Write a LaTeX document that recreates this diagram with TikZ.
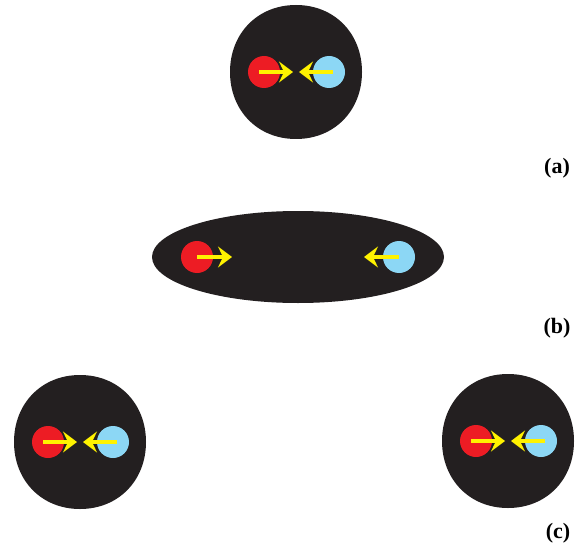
\documentclass[tikz,border=0pt]{standalone}
\usepackage{fontspec}
\setmainfont{Liberation Serif}
\usetikzlibrary{arrows.meta,positioning}
\definecolor{blobblack}{RGB}{35,31,32}
\definecolor{ballred}{RGB}{237,28,36}
\definecolor{ballblue}{RGB}{140,215,245}
\definecolor{pushyellow}{RGB}{255,242,0}

\tikzset{
  blob/.style={fill=blobblack},
  redball/.style={circle, fill=ballred, minimum size=32pt, inner sep=0pt},
  blueball/.style={circle, fill=ballblue, minimum size=32pt, inner sep=0pt},
  push/.style={draw=pushyellow, line width=3.6pt,
    -{Stealth[length=14pt, width=21pt, inset=5pt]}},
  caselabel/.style={font=\fontsize{22}{26}\selectfont\bfseries}
}

\begin{document}
\begin{tikzpicture}[x=1pt, y=-1pt]
  \useasboundingbox (0,0) rectangle (580,548);

  % round drops: (a) on top, (c) below
  \foreach \cx/\cy/\nm in {296/72/a, 80/442/cl, 508/441/cr} {
    \begin{scope}[shift={(\cx,\cy)}]
      \fill[blob] (66,0) .. controls (66,38.5) and (38.5,67) .. (0,67)
        .. controls (-38.5,67) and (-66,38.5) .. (-66,0)
        .. controls (-66,-38.5) and (-38.5,-67) .. (0,-67)
        .. controls (38.5,-67) and (66,-38.5) .. (66,0) -- cycle;
      \node[redball] (red\nm) at (-32,0) {};
      \node[blueball] (blue\nm) at (33,0) {};
      \coordinate (tipred\nm) at (-3,0);
      \coordinate (tipblue\nm) at (3,0);
      \draw[push] ([xshift=-5pt]red\nm.center) -- (tipred\nm);
      \draw[push] ([xshift=4pt]blue\nm.center) -- (tipblue\nm);
    \end{scope}
  }

  % stretched drop (b)
  \fill[blob] (298,257) ellipse [x radius=146, y radius=46];
  \node[redball] (redb) at (197,257) {};
  \node[blueball] (blueb) at (399,257) {};
  \coordinate (tipredb) at (232,257);
  \coordinate (tipblueb) at (364,257);
  \draw[push] (redb.center) -- (tipredb);
  \draw[push] (blueb.center) -- (tipblueb);

  % labels
  \node[caselabel] (laba) at (557,168) {(a)};
  \node[caselabel] (labb) at (557,328) {(b)};
  \node[caselabel] (labc) at (558,533) {(c)};
\end{tikzpicture}
\end{document}
